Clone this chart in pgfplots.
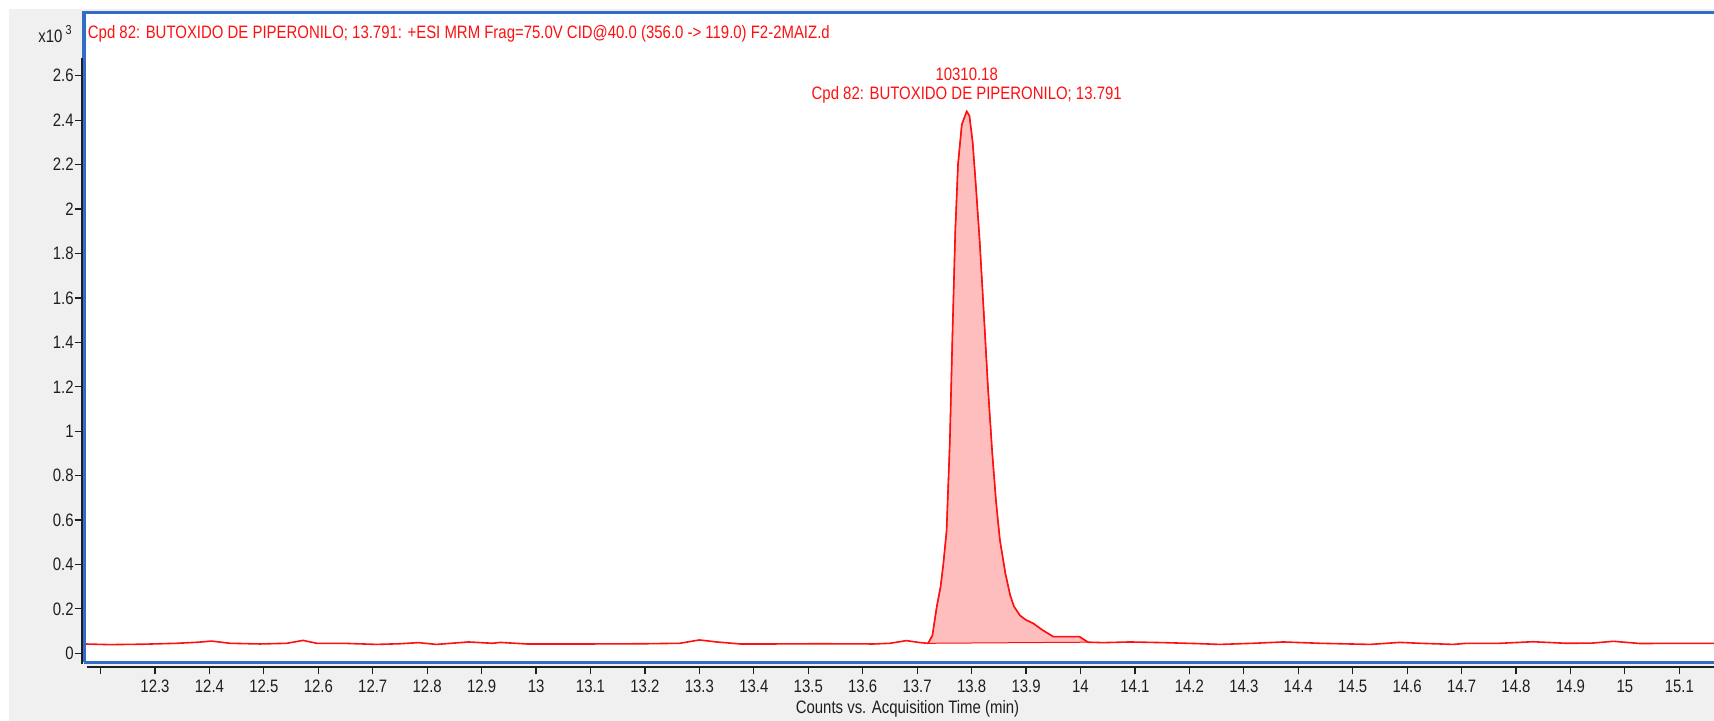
\documentclass[border=0pt]{standalone}
\usepackage{pgfplots}
\pgfplotsset{compat=1.18}
\usepackage{pgfplotstable}
\usepackage{fontspec}
\setmainfont{Liberation Sans}[FakeStretch=0.83]
\definecolor{bggray}{HTML}{F0F0F0}
\definecolor{frameblue}{RGB}{49,108,199}
\definecolor{peakfill}{RGB}{255,190,190}
\definecolor{tracered}{RGB}{255,16,16}
\definecolor{txt}{HTML}{1E1E1E}
\newcommand\cf{\fontsize{9}{10.8}\selectfont}

\pgfplotstableread{
t y
12.1696 0.042
12.217 0.039
12.28 0.041
12.34 0.045
12.38 0.050
12.404 0.055
12.438 0.045
12.493 0.042
12.542 0.045
12.572 0.058
12.597 0.045
12.645 0.045
12.707 0.040
12.75 0.043
12.784 0.048
12.817 0.040
12.876 0.051
12.92 0.045
12.934 0.049
12.983 0.042
13.044 0.042
13.1 0.042
13.2 0.043
13.264 0.045
13.30 0.060
13.332 0.051
13.375 0.042
13.435 0.042
13.52 0.043
13.62 0.042
13.65 0.045
13.68 0.057
13.706 0.048
13.72 0.045
}\leftbase

\pgfplotstableread{
t y
13.720 0.045
13.728 0.08
13.736 0.21
13.743 0.30
13.748 0.40
13.754 0.55
13.760 0.95
13.765 1.45
13.770 1.90
13.775 2.20
13.782 2.38
13.791 2.44
13.796 2.42
13.802 2.30
13.808 2.10
13.815 1.85
13.822 1.55
13.830 1.20
13.838 0.90
13.845 0.68
13.852 0.51
13.862 0.36
13.871 0.26
13.878 0.21
13.889 0.170
13.900 0.150
13.913 0.135
13.930 0.105
13.950 0.075
13.975 0.075
13.998 0.075
14.014 0.050
}\peak

\pgfplotstableread{
t y
14.014 0.050
14.041 0.048
14.091 0.051
14.152 0.048
14.21 0.044
14.256 0.040
14.317 0.045
14.372 0.051
14.44 0.045
14.532 0.040
14.587 0.049
14.624 0.045
14.685 0.040
14.709 0.045
14.77 0.045
14.831 0.052
14.893 0.045
14.94 0.046
14.979 0.054
15.028 0.044
15.1 0.045
15.1637 0.045
}\rightbase

\begin{document}
\begin{tikzpicture}
\useasboundingbox (0,0) rectangle (857pt,360.5pt);
\fill[white] (0,0) rectangle (857pt,360.5pt);
\fill[bggray] (4.25pt,0) rectangle (857pt,356pt);
\begin{axis}[
  scale only axis, width=815pt, height=324.9pt,
  at={(42pt,29.35pt)}, anchor=south west,
  xmin=12.1696, xmax=15.1637, ymin=-0.0405, ymax=2.885,
  axis background/.style={fill=white},
  axis line style={draw=none},
  clip mode=individual,
  xtick pos=bottom, ytick pos=left,
  tick align=outside,
  major tick length=3.8pt,
  every tick/.style={txt, line width=0.6pt},
  xtick style={yshift=-2.2pt},
  ytick style={xshift=-0.85pt},
  xtick={12.2,12.3,12.4,12.5,12.6,12.7,12.8,12.9,13,13.1,13.2,13.3,13.4,13.5,13.6,13.7,13.8,13.9,14,14.1,14.2,14.3,14.4,14.5,14.6,14.7,14.8,14.9,15,15.1},
  xticklabels={,12.3,12.4,12.5,12.6,12.7,12.8,12.9,13,13.1,13.2,13.3,13.4,13.5,13.6,13.7,13.8,13.9,14,14.1,14.2,14.3,14.4,14.5,14.6,14.7,14.8,14.9,15,15.1},
  ytick={0,0.2,0.4,0.6,0.8,1,1.2,1.4,1.6,1.8,2,2.2,2.4,2.6},
  yticklabels={0,0.2,0.4,0.6,0.8,1,1.2,1.4,1.6,1.8,2,2.2,2.4,2.6},
  ticklabel style={font=\cf, text=txt},
  xticklabel style={anchor=north, inner sep=0pt, yshift=-5.05pt},
  yticklabel style={anchor=east, inner sep=0pt, xshift=-1.2pt},
  xlabel={Counts vs. Acquisition Time (min)},
  xlabel style={font=\cf, text=txt, at={(axis description cs:0.5052,-0.0723)}, anchor=center, inner sep=0pt},
]
\addplot[draw=tracered, line width=0.5pt, fill=peakfill] table[x=t,y=y] {\peak} -- cycle;
\addplot[tracered, line width=0.8pt] table[x=t,y=y] {\leftbase};
\addplot[tracered, line width=0.8pt] table[x=t,y=y] {\peak};
\addplot[tracered, line width=0.8pt] table[x=t,y=y] {\rightbase};

\node[font=\cf, text=tracered, anchor=center, inner sep=0pt] at (axis cs:13.791,2.608) {10310.18};
\node[font=\cf, text=tracered, anchor=center, inner sep=0pt] at (axis cs:13.791,2.514) {Cpd 82: BUTOXIDO DE PIPERONILO; 13.791};
\node[font=\cf, text=tracered, anchor=west, inner sep=0pt] at (axis description cs:0.00215,0.967) {Cpd 82: BUTOXIDO DE PIPERONILO; 13.791: +ESI MRM Frag=75.0V CID@40.0 (356.0 -> 119.0) F2-2MAIZ.d};
\node[font=\cf, text=txt, anchor=east, inner sep=0pt] at (axis description cs:-0.0074,0.967) {x10\,\raisebox{0.45em}{\fontsize{6.5}{7}\selectfont 3}};

\draw[frameblue, line width=1.6pt] (rel axis cs:0,0) -- (rel axis cs:1,0);
\draw[frameblue, line width=1.6pt] (rel axis cs:0,0) -- (rel axis cs:0,1) -- (rel axis cs:1,1);
\draw[txt, line width=0.9pt] ([xshift=-0.85pt]rel axis cs:0,-0.003) -- ([xshift=-0.85pt]rel axis cs:0,0.9307);
\draw[txt, line width=0.9pt] ([yshift=-2.2pt]rel axis cs:0.0016,0) -- ([yshift=-2.2pt]rel axis cs:1,0);
\end{axis}
\end{tikzpicture}
\end{document}
